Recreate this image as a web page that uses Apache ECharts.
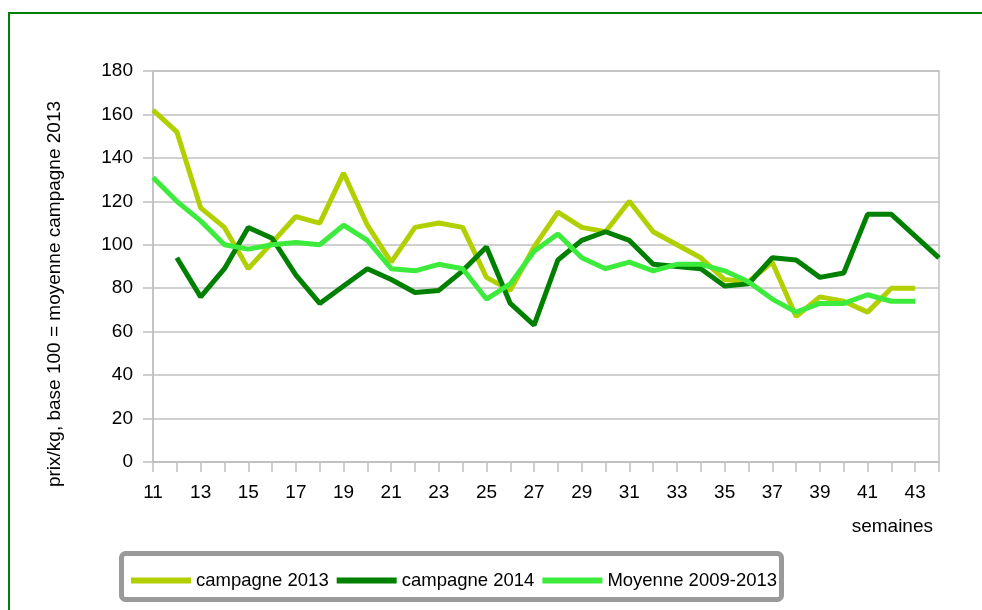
<!DOCTYPE html>
<html>
<head>
<meta charset="utf-8">
<script src="https://cdn.jsdelivr.net/npm/echarts@6/dist/echarts.min.js"></script>
<style>
  html, body { margin: 0; padding: 0; background: #fff; }
  .main { width: 982px; height: 610px; }
</style>
</head>
<body>
<div class="main"></div>
<script>
let chartDom = document.querySelector('.main');
let myChart = echarts.init(chartDom);

// semaines 11 a 44
let weeks = ['11','12','13','14','15','16','17','18','19','20','21','22','23','24','25','26','27',
  '28','29','30','31','32','33','34','35','36','37','38','39','40','41','42','43','44'];

let campagne2013 = [162,152,117,108,89,101,113,110,133,109,92,108,110,108,85,79,99,
  115,108,106,120,106,100,94,84,83,92,67,76,74,69,80,80,'-'];
let campagne2014 = ['-',94,76,89,108,103,86,73,81,89,84,78,79,88,99,73,63,
  93,102,106,102,91,90,89,81,82,94,93,85,87,114,114,104,94];
let moyenne = [131,120,111,100,98,100,101,100,109,102,89,88,91,89,75,82,97,
  105,94,89,92,88,91,91,88,83,75,69,73,73,77,74,74,'-'];

let yTicks = [0, 20, 40, 60, 80, 100, 120, 140, 160, 180];

let font = "'Liberation Sans', Arial, sans-serif";
let gray = '#c0c0c0';

let option = {
  animation: false,
  backgroundColor: '#fff',
  textStyle: { fontFamily: font },
  grid: {
    left: 153, right: 43, top: 71, bottom: 148,
    show: true, borderColor: gray, borderWidth: 1.5
  },
  legend: {
    left: 126, top: 566,
    icon: 'rect',
    itemWidth: 60, itemHeight: 6, itemGap: 8,
    textStyle: { fontSize: 18.5, color: '#000', fontFamily: font },
    data: ['campagne 2013', 'campagne 2014', 'Moyenne 2009-2013']
  },
  xAxis: {
    type: 'category',
    boundaryGap: false,
    data: weeks,
    axisLine: { lineStyle: { color: gray, width: 1.5 } },
    axisTick: { show: true, interval: 0, length: 10, lineStyle: { color: gray, width: 1.5 } },
    axisLabel: { interval: 1, margin: 21, fontSize: 19, color: '#000', fontFamily: font },
    splitLine: { show: false }
  },
  yAxis: {
    type: 'value',
    min: yTicks[0], max: yTicks[yTicks.length - 1], interval: 20,
    axisLine: { show: true, lineStyle: { color: gray, width: 1.5 } },
    axisTick: { show: true, length: 10, lineStyle: { color: gray, width: 1.5 } },
    axisLabel: { margin: 20, fontSize: 19, color: '#000', fontFamily: font },
    splitLine: { lineStyle: { color: gray, width: 1.5 } }
  },
  graphic: [
    {
      type: 'rect', silent: true,
      shape: { x: 9, y: 13, width: 1000, height: 700 },
      style: { fill: 'none', stroke: '#008000', lineWidth: 2 }
    },
    {
      type: 'rect', silent: true, z: -1,
      shape: { x: 121.5, y: 553.5, width: 660, height: 46, r: 4 },
      style: { fill: '#fff', stroke: '#9a9a9a', lineWidth: 5 }
    },
    {
      type: 'text', silent: true,
      x: 55, y: 294, rotation: Math.PI / 2,
      style: {
        text: 'prix/kg, base 100 = moyenne campagne 2013',
        font: '19px ' + font, fill: '#000',
        align: 'center', verticalAlign: 'middle'
      }
    },
    {
      type: 'text', silent: true,
      x: 933, y: 527,
      style: {
        text: 'semaines', font: '19px ' + font, fill: '#000',
        align: 'right', verticalAlign: 'middle'
      }
    }
  ],
  series: [
    {
      name: 'campagne 2013', type: 'line', data: campagne2013,
      symbol: 'none',
      itemStyle: { color: '#b2d000' },
      lineStyle: { color: '#b2d000', width: 5 }
    },
    {
      name: 'campagne 2014', type: 'line', data: campagne2014,
      symbol: 'none',
      itemStyle: { color: '#008000' },
      lineStyle: { color: '#008000', width: 5 }
    },
    {
      name: 'Moyenne 2009-2013', type: 'line', data: moyenne,
      symbol: 'none',
      itemStyle: { color: '#3ceb3c' },
      lineStyle: { color: '#3ceb3c', width: 5 }
    }
  ]
};

option && myChart.setOption(option);
</script>
</body>
</html>
